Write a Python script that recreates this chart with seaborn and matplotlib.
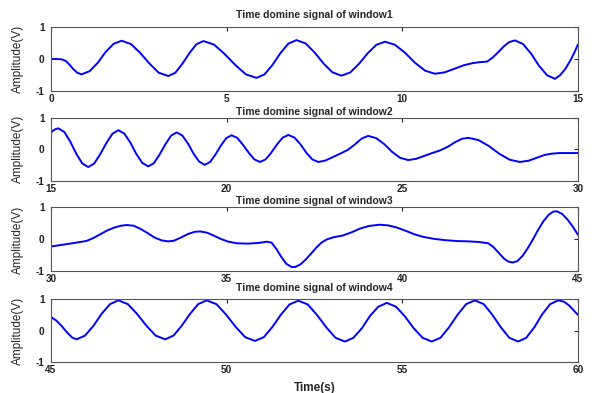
import matplotlib
matplotlib.use("Agg")
import matplotlib.pyplot as plt
import seaborn as sns
import pandas as pd

# ---- data ----
t1 = [0, 0.15, 0.3, 0.42, 0.53, 0.64, 0.75, 0.87, 1.10, 1.33, 1.55, 1.78, 2.01, 2.28, 2.54, 2.81, 3.07, 3.34,
      3.54, 3.74, 3.94, 4.14, 4.34, 4.64, 4.94, 5.25, 5.55, 5.85, 6.08, 6.31, 6.53, 6.76, 6.99, 7.25, 7.50, 7.76,
      8.01, 8.27, 8.52, 8.77, 9.01, 9.26, 9.51, 9.79, 10.08, 10.36, 10.65, 10.93, 11.2, 11.5, 11.74, 12.0, 12.2,
      12.42, 12.58, 12.74, 12.9, 13.05, 13.21, 13.44, 13.67, 13.89, 14.12, 14.35, 14.5, 14.65, 14.8, 14.9, 15.0]
v1 = [0.0, 0.0, -0.01, -0.06, -0.18, -0.32, -0.43, -0.48, -0.38, -0.12, 0.21, 0.47, 0.57, 0.465, 0.19, -0.15,
      -0.43, -0.53, -0.43, -0.15, 0.18, 0.46, 0.56, 0.45, 0.16, -0.19, -0.48, -0.59, -0.48, -0.18, 0.18, 0.48,
      0.59, 0.485, 0.21, -0.14, -0.415, -0.52, -0.42, -0.15, 0.17, 0.44, 0.54, 0.445, 0.195, -0.115, -0.365,
      -0.46, -0.42, -0.3, -0.2, -0.13, -0.1, -0.08, 0.05, 0.22, 0.4, 0.53, 0.58, 0.466, 0.166, -0.206, -0.506,
      -0.62, -0.5, -0.3, -0.02, 0.2, 0.45]

t2 = [15.0, 15.1, 15.21, 15.38, 15.55, 15.72, 15.89, 16.06, 16.23, 16.40, 16.58, 16.75, 16.92, 17.09, 17.26,
      17.43, 17.60, 17.77, 17.93, 18.09, 18.26, 18.42, 18.58, 18.74, 18.90, 19.06, 19.22, 19.38, 19.53, 19.68,
      19.84, 19.99, 20.14, 20.30, 20.46, 20.63, 20.79, 20.95, 21.11, 21.27, 21.44, 21.60, 21.76, 21.93, 22.10,
      22.27, 22.44, 22.61, 22.8, 23.0, 23.23, 23.45, 23.65, 23.85, 24.03, 24.26, 24.49, 24.71, 24.94, 25.17, 25.4,
      25.65, 25.85, 26.07, 26.3, 26.5, 26.7, 26.88, 27.17, 27.47, 27.76, 28.06, 28.35, 28.6, 28.85, 29.05, 29.25,
      29.45, 29.7, 30.0]
v2 = [0.53, 0.62, 0.66, 0.544, 0.24, -0.14, -0.444, -0.56, -0.45, -0.16, 0.2, 0.49, 0.60, 0.49, 0.21, -0.15,
      -0.43, -0.54, -0.44, -0.17, 0.16, 0.43, 0.53, 0.433, 0.18, -0.14, -0.39, -0.49, -0.40, -0.17, 0.12, 0.35,
      0.44, 0.36, 0.15, -0.11, -0.32, -0.40, -0.32, -0.11, 0.16, 0.37, 0.45, 0.37, 0.16, -0.11, -0.32, -0.40,
      -0.36, -0.26, -0.14, -0.02, 0.15, 0.34, 0.42, 0.35, 0.16, -0.08, -0.27, -0.34, -0.3, -0.2, -0.12, -0.04,
      0.08, 0.22, 0.33, 0.36, 0.29, 0.10, -0.14, -0.33, -0.40, -0.36, -0.26, -0.18, -0.14, -0.12, -0.12, -0.12]

t3 = [30.0, 30.3, 30.6, 31.0, 31.2, 31.4, 31.6, 31.8, 32.0, 32.15, 32.35, 32.55, 32.75, 32.95, 33.15, 33.34,
      33.5, 33.7, 33.9, 34.1, 34.25, 34.45, 34.65, 34.85, 35.05, 35.3, 35.6, 35.9, 36.15, 36.28, 36.42, 36.56,
      36.7, 36.85, 36.95, 37.1, 37.25, 37.4, 37.55, 37.7, 37.85, 38.05, 38.3, 38.55, 38.8, 39.05, 39.35, 39.6,
      39.85, 40.1, 40.35, 40.6, 40.9, 41.2, 41.55, 41.9, 42.2, 42.45, 42.6, 42.75, 42.9, 43.02, 43.14, 43.27,
      43.42, 43.57, 43.72, 43.87, 44.02, 44.17, 44.3, 44.4, 44.55, 44.7, 44.85, 45.0]
v3 = [-0.22, -0.17, -0.12, -0.05, 0.04, 0.16, 0.28, 0.37, 0.43, 0.45, 0.43, 0.33, 0.2, 0.06, -0.03, -0.06,
      -0.04, 0.06, 0.17, 0.24, 0.25, 0.21, 0.11, 0.01, -0.07, -0.12, -0.13, -0.11, -0.07, -0.1, -0.3, -0.55,
      -0.76, -0.86, -0.86, -0.78, -0.63, -0.45, -0.26, -0.1, 0.0, 0.07, 0.12, 0.22, 0.34, 0.42, 0.46, 0.44,
      0.37, 0.27, 0.16, 0.08, 0.02, -0.02, -0.05, -0.06, -0.08, -0.12, -0.24, -0.42, -0.6, -0.69, -0.72, -0.68,
      -0.52, -0.28, 0.0, 0.3, 0.57, 0.77, 0.87, 0.88, 0.8, 0.63, 0.41, 0.15]

t4 = [45.0, 45.15, 45.3, 45.45, 45.6, 45.73, 45.97, 46.21, 46.44, 46.68, 46.92, 47.19, 47.45, 47.72, 47.98,
      48.25, 48.49, 48.72, 48.96, 49.19, 49.43, 49.71, 49.98, 50.26, 50.53, 50.81, 51.06, 51.30, 51.55, 51.79,
      52.04, 52.31, 52.57, 52.84, 53.10, 53.37, 53.61, 53.85, 54.08, 54.32, 54.56, 54.82, 55.07, 55.33, 55.58,
      55.84, 56.09, 56.33, 56.58, 56.82, 57.07, 57.32, 57.56, 57.81, 58.05, 58.30, 58.53, 58.76, 58.98, 59.21,
      59.44, 59.6, 59.75, 59.9, 60.0]
v4 = [0.43, 0.32, 0.15, -0.05, -0.22, -0.28, -0.16, 0.15, 0.53, 0.84, 0.96, 0.84, 0.53, 0.15, -0.16, -0.28,
      -0.16, 0.15, 0.53, 0.84, 0.96, 0.84, 0.515, 0.115, -0.21, -0.33, -0.21, 0.11, 0.51, 0.83, 0.95, 0.83,
      0.50, 0.10, -0.23, -0.35, -0.23, 0.07, 0.46, 0.76, 0.88, 0.76, 0.46, 0.07, -0.23, -0.35, -0.23, 0.10,
      0.51, 0.84, 0.96, 0.84, 0.51, 0.10, -0.23, -0.35, -0.23, 0.10, 0.51, 0.84, 0.96, 0.92, 0.8, 0.62, 0.5]

titles = ["Time domine signal of window1", "Time domine signal of window2",
          "Time domine signal of window3", "Time domine signal of window4"]
xlims = [(0, 15), (15, 30), (30, 45), (45, 60)]
xtick_sets = [[0, 5, 10, 15], [15, 20, 25, 30], [30, 35, 40, 45], [45, 50, 55, 60]]
yticks = [-1, 0, 1]

sns.set_style("white")
plt.rcParams['font.family'] = ['Liberation Sans', 'DejaVu Sans']

fig = plt.figure(figsize=(5.92, 3.93), dpi=100)
bottoms = [0.7684, 0.5394, 0.3092, 0.0789]
heights = [0.163, 0.1616, 0.163, 0.160]
title_pads = [6.5, 1.8, 2.3, 6.0]
series = [(t1, v1), (t2, v2), (t3, v3), (t4, v4)]

for i in range(4):
    ax = fig.add_axes([0.0861, bottoms[i], 0.890, heights[i]])
    t, v = series[i]
    df = pd.DataFrame({"t": t, "v": v})
    sns.lineplot(data=df, x="t", y="v", ax=ax, color="#0000ff", linewidth=1.4,
                 estimator=None, sort=False)
    ax.set_xlim(*xlims[i])
    ax.set_ylim(-1, 1)
    ax.set_xticks(xtick_sets[i])
    ax.set_yticks(yticks)
    ax.set_xticklabels([str(x) for x in xtick_sets[i]], fontsize=7.2, fontweight='bold')
    ax.set_yticklabels([str(y) for y in yticks], fontsize=7.2, fontweight='bold')
    ax.tick_params(axis='x', direction='in', length=3, width=0.8, top=True, pad=2, colors='#222222')
    ax.tick_params(axis='y', direction='in', length=3, width=0.8, right=True, pad=4.5, colors='#222222')
    for s in ax.spines.values():
        s.set_color('#555555')
        s.set_linewidth(0.8)
    ax.set_title(titles[i], fontsize=7.5, fontweight='bold', pad=title_pads[i])
    ax.set_ylabel("Amplitude(V)", fontsize=8.5, labelpad=9)
    ax.set_xlabel("")

ax.set_xlabel("Time(s)", fontsize=8.5, fontweight='bold', labelpad=5)

fig.savefig("out.png", dpi=100)
